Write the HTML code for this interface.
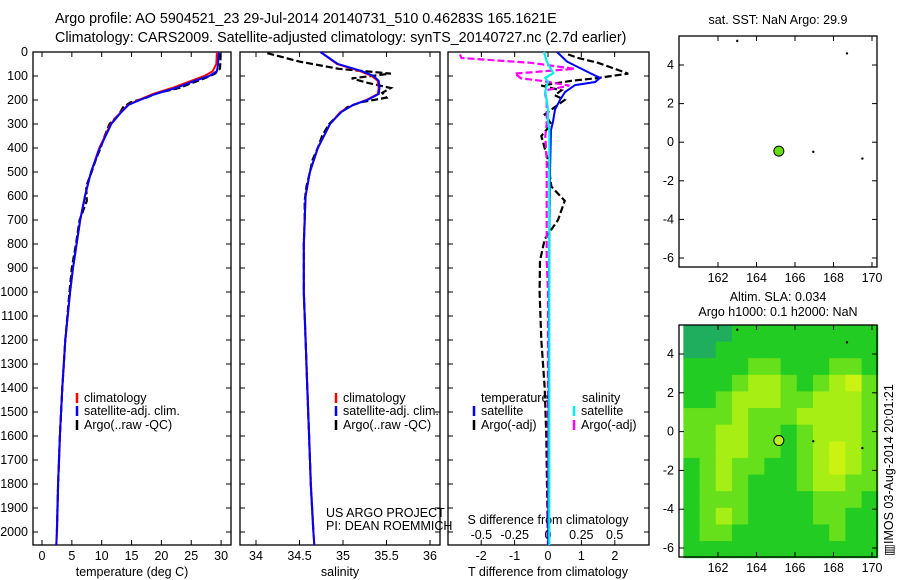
<!DOCTYPE html>
<html><head><meta charset="utf-8"><style>
body{margin:0;background:#fff}
svg{display:block;font-family:"Liberation Sans",sans-serif;font-size:12.5px}
</style></head><body>
<svg id="c" width="900" height="580" viewBox="0 0 900 580">
<text x="55" y="23" font-size="14.3">Argo profile: AO 5904521_23 29-Jul-2014 20140731_510 0.46283S 165.1621E</text>
<text x="55" y="42" font-size="14.3">Climatology: CARS2009. Satellite-adjusted climatology: synTS_20140727.nc (2.7d earlier)</text>
<g id="g"></g>
</svg>
<script>
// ---- data ----
const tDepth=[0,50,80,100,120,150,175,200,220,250,300,400,500,600,700,800,900,1000,1200,1400,1600,1800,2000,2054];
const tClim=[29.3,29.2,28.6,27.2,25.0,21.8,18.6,16.2,14.4,13.2,11.5,9.6,8.2,7.2,6.4,5.8,5.2,4.7,3.9,3.4,3.0,2.7,2.5,2.4];
const tSat=[29.6,29.5,29.3,28.0,25.6,22.4,19.0,16.4,14.5,13.3,11.6,9.7,8.2,7.2,6.4,5.8,5.2,4.7,3.9,3.4,3.0,2.7,2.5,2.4];
const aDepth=[5,40,70,90,110,130,150,170,190,210,230,260,300,350,400,450,500,560,620,700,800,900,1000,1200,1400,1600,1800,2000];
const tArgo=[29.9,29.9,29.8,29.0,27.2,25.0,23.0,19.5,17.5,14.8,13.6,12.9,11.3,10.5,9.8,9.0,8.3,7.4,7.5,6.3,5.7,5.0,4.6,3.9,3.4,3.0,2.7,2.5];
const sClim=[34.74,34.93,35.2,35.33,35.40,35.41,35.40,35.27,35.12,34.97,34.85,34.71,34.62,34.57,34.56,34.55,34.55,34.55,34.57,34.59,34.61,34.63,34.66,34.67];
const sSat=[34.74,34.94,35.22,35.35,35.41,35.42,35.41,35.28,35.12,34.98,34.85,34.71,34.62,34.57,34.56,34.55,34.55,34.55,34.57,34.59,34.61,34.63,34.66,34.67];
const sArgo=[34.13,34.5,34.95,35.55,35.1,35.3,35.55,35.45,35.5,35.2,35.05,34.95,34.84,34.76,34.71,34.65,34.62,34.58,34.56,34.56,34.55,34.55,34.55,34.57,34.59,34.61,34.63,34.66];
const dDepth=[0,40,88,108,125,138,167,200,240,290,325,500,1000,1500,2000,2054];
const dTsat=[0.27,0.57,1.26,1.56,1.41,0.81,0.51,0.36,0.21,0.15,0.09,0.06,0.03,0.02,0.01,0.01];
const dSsat=[-0.03,-0.01,0.04,-0.02,0.0,-0.01,-0.02,-0.01,0.0,0.0,0.01,0.01,0.01,0.01,0.01,0.01];
const gDepth=[10,25,45,70,90,110,120,140,160,180,200,230,260,300,350,450,560,620,700,780,870,1000,1200,1400,1600,1800,2050];
const dTargo=[0.6,0.9,1.5,2.0,2.4,1.4,0.7,-0.2,0.4,0.2,0.5,0.2,-0.1,0.1,-0.2,0.0,0.1,0.5,0.3,-0.1,-0.24,-0.25,-0.2,-0.1,-0.05,-0.03,0.0];
const dSargo=[-0.66,-0.65,-0.13,0.2,-0.25,-0.2,-0.05,0.16,-0.02,-0.02,-0.01,-0.01,-0.01,-0.01,-0.02,-0.01,-0.01,-0.01,-0.01,-0.01,-0.01,0,0,0,0,0,0];
const yTicks=[0,100,200,300,400,500,600,700,800,900,1000,1100,1200,1300,1400,1500,1600,1700,1800,1900,2000];
const tTicks=[0,5,10,15,20,25,30];
const sTicks=[34,34.5,35,35.5,36];
const sTickLabels=["34","34.5","35","35.5","36"];
const dtTicks=[-2,-1,0,1,2];
const dsTicks=[-0.5,-0.25,0,0.25,0.5];
const dsTickLabels=["-0.5","-0.25","0","0.25","0.5"];
const lonTicks=[162,164,166,168,170];
const latTicks=[4,2,0,-2,-4,-6];
const floatPos=[165.16,-0.46];
const otherLon=[163.0,168.7,166.95,169.5];
const otherLat=[5.25,4.6,-0.5,-0.85];
const slaGrid=[
[0,0,0,1,1,1,1,1,1,1,1,1],
[0,0,1,1,1,1,1,1,1,1,1,1],
[1,1,1,1,2,2,1,1,1,2,2,1],
[1,1,1,2,3,3,2,1,2,3,4,2],
[1,1,2,3,3,3,2,2,3,3,3,2],
[2,2,2,3,2,2,2,3,3,3,3,2],
[2,2,3,3,2,2,1,2,3,3,3,2],
[2,2,3,3,2,2,1,2,3,4,3,2],
[1,2,3,2,2,1,1,2,3,4,3,2],
[1,2,3,2,1,1,1,2,3,3,2,2],
[1,2,2,2,1,1,1,1,2,2,2,1],
[1,2,3,2,1,1,1,1,2,2,1,1],
[1,2,2,1,1,1,1,1,1,2,1,1],
[1,1,1,1,1,1,1,1,1,1,1,1]];
// ---- drawing ----
const NS="http://www.w3.org/2000/svg",G=document.getElementById('g');
function el(t,a,p){const e=document.createElementNS(NS,t);for(const k in a)e.setAttribute(k,a[k]);(p||G).appendChild(e);return e;}
const Y=d=>52+d*0.24;
const T=v=>42+v*5.97, S=v=>256+(v-34)*87, DT=v=>548+v*33.4, DS=v=>548+v*133.3;
const LX=v=>718+(v-162)*19.25, LY1=v=>65-(v-4)*19.3, LY2=v=>354-(v-4)*19.4;
function line(depths,vals,fx,col,w,dash,name){
  const p=depths.map((d,i)=>fx(vals[i]).toFixed(1)+','+Y(d).toFixed(1)).join(' ');
  const e=el('polyline',{points:p,fill:'none',stroke:col,'stroke-width':w});
  if(dash)e.setAttribute('stroke-dasharray',dash);
  
  
}
function frame(x0,x1,y0,y1,name){
  const e=el('rect',{x:x0,y:y0,width:x1-x0,height:y1-y0,fill:'none',stroke:'#000','stroke-width':1.3});
  
  
}
function txt(x,y,s,anchor,name,extra){
  const e=el('text',Object.assign({x:x,y:y,'text-anchor':anchor||'start'},extra||{}));
  e.textContent=s;
  
  
  return e;
}
const panels=[[33,231],[240,440],[448,649]];
panels.forEach((p,i)=>{
  frame(p[0],p[1],52,545,'profile-panel-'+(i+1));
  yTicks.forEach(d=>{
    el('line',{x1:p[0],x2:p[0]+5,y1:Y(d),y2:Y(d),stroke:'#000'});
    el('line',{x1:p[1]-5,x2:p[1],y1:Y(d),y2:Y(d),stroke:'#000'});
  });
});
yTicks.forEach(d=>txt(28,Y(d)+4,String(d),'end','depth-tick-label'));
function xt(ticks,labels,f,name,top){
  ticks.forEach((v,i)=>{
    el('line',{x1:f(v),x2:f(v),y1:545,y2:540,stroke:'#000'});
    if(top)el('line',{x1:f(v),x2:f(v),y1:52,y2:57,stroke:'#000'});
    txt(f(v),560,labels[i],'middle',name);
  });
}
xt(tTicks,tTicks.map(String),T,'temp-tick-label',true);
xt(sTicks,sTickLabels,S,'sal-tick-label',true);
xt(dtTicks,dtTicks.map(String),DT,'tdiff-tick-label',false);
dsTicks.forEach((v,i)=>{el('line',{x1:DS(v),x2:DS(v),y1:52,y2:57,stroke:'#000'});txt(DS(v),539,dsTickLabels[i],'middle','sdiff-tick-label');});
txt(132,576,'temperature (deg C)','middle','temp-axis-title');
txt(340,576,'salinity','middle','sal-axis-title');
txt(548,576,'T difference from climatology','middle','tdiff-axis-title');
txt(548,524,'S difference from climatology','middle','sdiff-axis-title');
// profiles
line(aDepth,tArgo,T,'#000',2.2,'7,3','temp-argo-line');
line(tDepth,tClim,T,'#f00',2,'','temp-clim-line');
line(tDepth,tSat,T,'#00f',2,'','temp-sat-line');
line(aDepth,sArgo,S,'#000',2.2,'7,3','sal-argo-line');
line(tDepth,sClim,S,'#f00',2,'','sal-clim-line');
line(tDepth,sSat,S,'#00f',2,'','sal-sat-line');
line(gDepth,dTargo,DT,'#000',2.2,'7,3','tdiff-argo-line');
line(gDepth,dSargo,DS,'#f0f',2.2,'7,3','sdiff-argo-line');
line(dDepth,dTsat,DT,'#00f',2,'','tdiff-sat-line');
line(dDepth,dSsat,DS,'#0ee',2.2,'','sdiff-sat-line');
// legends
function leg(x,y,col,label,name){
  el('line',{x1:x,x2:x,y1:y-9,y2:y+1,stroke:col,'stroke-width':2.5});
  txt(x+7,y,label,'start',name);
}
[[77],[336]].forEach(p=>{
  leg(p[0],402,'#f00','climatology','legend-climatology');
  leg(p[0],415,'#00f','satellite-adj. clim.','legend-satellite');
  leg(p[0],429,'#000','Argo(..raw -QC)','legend-argo');
});
txt(481,402,'temperature','start','legend-temp-header');
leg(474,415,'#00f','satellite','legend-tdiff-sat');
leg(474,429,'#000','Argo(-adj)','legend-tdiff-argo');
txt(582,402,'salinity','start','legend-sal-header');
leg(574,415,'#0ee','satellite','legend-sdiff-sat');
leg(574,429,'#f0f','Argo(-adj)','legend-sdiff-argo');
txt(326,517,'US ARGO PROJECT','start','project-label');
txt(326,530,'PI: DEAN ROEMMICH','start','pi-label');
// maps
const cols=['#1fae5e','#22cc22','#66e01a','#a6ee14','#ccf212'];
const nr=slaGrid.length,nc=slaGrid[0].length,lon0=160.2,lon1=170.3,lat0=5.5,lat1=-6.5;
slaGrid.forEach((row,r)=>row.forEach((v,c)=>{
  const x0=LX(lon0+(lon1-lon0)*c/nc),x1=LX(lon0+(lon1-lon0)*(c+1)/nc);
  const y0=LY2(lat0+(lat1-lat0)*r/nr),y1=LY2(lat0+(lat1-lat0)*(r+1)/nr);
  const e=el('rect',{x:x0,y:y0,width:x1-x0+0.5,height:y1-y0+0.5,fill:cols[v]});
  
  
}));
[[36,267,LY1,'sst-map'],[325,557,LY2,'sla-map']].forEach(m=>{
  frame(679,877,m[0],m[1],m[3]);
  lonTicks.forEach(v=>{el('line',{x1:LX(v),x2:LX(v),y1:m[1],y2:m[1]-5,stroke:'#000'});el('line',{x1:LX(v),x2:LX(v),y1:m[0],y2:m[0]+5,stroke:'#000'});txt(LX(v),m[1]+15,String(v),'middle','lon-tick-label');});
  latTicks.forEach(v=>{el('line',{x1:679,x2:684,y1:m[2](v),y2:m[2](v),stroke:'#000'});el('line',{x1:872,x2:877,y1:m[2](v),y2:m[2](v),stroke:'#000'});txt(674,m[2](v)+4,String(v),'end','lat-tick-label');});
  otherLon.forEach((v,i)=>{const e=el('circle',{cx:LX(v),cy:m[2](otherLat[i]),r:1.2,fill:'#000'});});
  const f=el('circle',{cx:LX(floatPos[0]),cy:m[2](floatPos[1]),r:5,fill:m[3]=='sst-map'?'#66dd11':'#bbee22',stroke:'#000','stroke-width':1});
  
  
});
txt(778,24,'sat. SST: NaN Argo: 29.9','middle','sst-map-title');
txt(778,301,'Altim. SLA: 0.034','middle','sla-map-title-1');
txt(778,316,'Argo h1000: 0.1 h2000: NaN','middle','sla-map-title-2');
txt(0,0,'\u25A5IMOS 03-Aug-2014 20:01:21','middle','imos-timestamp',{transform:'translate(893,470) rotate(-90)'});
</script>
</body></html>
